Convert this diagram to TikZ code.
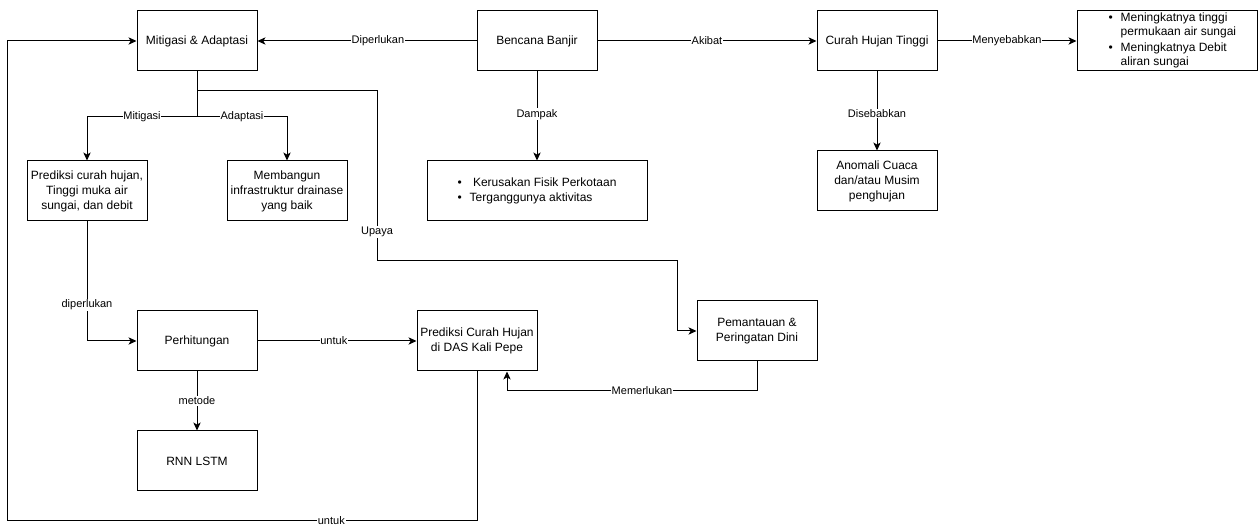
\documentclass[tikz,border=0pt]{standalone}
\usepackage{fontspec}
\setmainfont{Liberation Sans}
\usetikzlibrary{arrows.meta}
\begin{document}
\begin{tikzpicture}[x=0.75pt,y=-0.75pt,
  box/.style={draw, line width=0.75pt, minimum width=90pt, minimum height=45pt, align=center, inner sep=2pt, font=\fontsize{9}{11.25}\selectfont},
  lbl/.style={fill=white, inner sep=0.6pt, font=\fontsize{8.25}{10}\selectfont},
  arr/.style={line width=0.75pt, -{Stealth[length=6pt,width=5.5pt,inset=1.6pt]}},
  ln/.style={line width=0.75pt}]
\useasboundingbox[fill=white] (0,0) rectangle (1258,530);
% nodes
\node[box] (ma) at (197,41) {Mitigasi \& Adaptasi};
\node[box] (bb) at (537,41) {Bencana Banjir};
\node[box] (ch) at (877,41) {Curah Hujan Tinggi};
\node[box, minimum width=135pt, inner sep=0pt, font=\fontsize{9}{10.5}\selectfont] (ak) at (1167,41)
  {\begin{tabular}{@{\hspace{8pt}}c@{\hspace{6pt}}l@{}}
   \textbullet & Meningkatnya tinggi\\ & permukaan air sungai\\[1.5pt]
   \textbullet & Meningkatnya Debit\\ & aliran sungai
   \end{tabular}};
\node[box] (pc) at (87,191) {Prediksi curah hujan,\\ Tinggi muka air\\ sungai, dan debit};
\node[box] (mb) at (287,191) {Membangun\\ infrastruktur drainase\\ yang baik};
\node[box, minimum width=165pt] (kr) at (537,191)
  {\begin{tabular}{@{}c@{\hspace{6pt}}l@{}}
   \textbullet & \ Kerusakan Fisik Perkotaan\\
   \textbullet & Terganggunya aktivitas
   \end{tabular}};
\node[box] (an) at (877,181) {Anomali Cuaca\\ dan/atau Musim\\ penghujan};
\node[box] (ph) at (197,341) {Perhitungan};
\node[box] (pd) at (477,341) {Prediksi Curah Hujan\\ di DAS Kali Pepe};
\node[box] (pm) at (757,331) {Pemantauan \&\\ Peringatan Dini};
\node[box] (rn) at (197,461) {RNN LSTM};
% coordinates
\coordinate (j1) at (197,117);
\coordinate (j2) at (197,91);
\coordinate (u1) at (377,91);
\coordinate (u2) at (377,261);
\coordinate (u3) at (677,261);
\coordinate (m1) at (757,391);
\coordinate (m2) at (507,391);
\coordinate (b1) at (477,521);
\coordinate (b2) at (7,521);
% connectors
\draw[arr] (bb.west) -- node[lbl, pos=0.45]{Diperlukan} (ma.east);
\draw[arr] (bb.east) -- node[lbl]{Akibat} (ch.west);
\draw[arr] (ch.east) -- node[lbl]{Menyebabkan} (ak.west);
\draw[arr] (bb.south) -- node[lbl, pos=0.48]{Dampak} (kr.north);
\draw[arr] (ch.south) -- node[lbl, pos=0.53]{Disebabkan} (an.north);
\draw[arr] (ma.south) -- (j1) -| node[lbl, pos=0.25]{Mitigasi} (pc.north);
\draw[arr] (j1) -| node[lbl, pos=0.25]{Adaptasi} (mb.north);
\draw[arr] (ma.south) -- (j2) -- (u1) -- node[lbl, pos=0.83]{Upaya} (u2) -- (u3) |- (pm.west);
\draw[arr] (pc.south) |- node[lbl, pos=0.35]{diperlukan} (ph.west);
\draw[arr] (ph.east) -- node[lbl, pos=0.48]{untuk} (pd.west);
\draw[arr] (ph.south) -- node[lbl]{metode} (rn.north);
\draw[arr] (pm.south) -- (m1) -- node[lbl, pos=0.46]{Memerlukan} (m2) -- (pd.south -| m2);
\draw[arr] (pd.south) -- (b1) -- node[lbl, pos=0.31]{untuk} (b2) |- (ma.west);
\end{tikzpicture}
\end{document}
